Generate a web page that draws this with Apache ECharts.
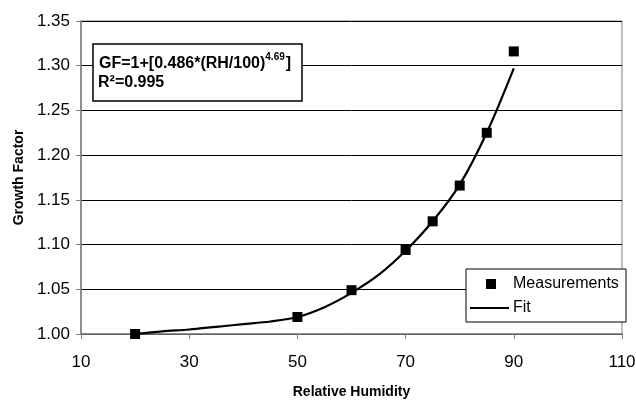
<!DOCTYPE html>
<html><head><meta charset="utf-8">
<script src="https://cdn.jsdelivr.net/npm/echarts@6/dist/echarts.min.js"></script>
<style>html,body{margin:0;padding:0;background:#fff}#c{width:636px;height:401px}</style>
</head><body><div id="c"></div>
<script>
const measRH = [20, 50, 60, 70, 75, 80, 85, 90];
const measGF = [1.000, 1.019, 1.049, 1.094, 1.126, 1.166, 1.225, 1.316];
const fitRH = [20, 25, 30, 35, 40, 45, 50, 55, 60, 65, 70, 75, 80, 85, 90];
const fitGF = [1.000, 1.003, 1.005, 1.008, 1.011, 1.014, 1.019, 1.030, 1.046, 1.066, 1.093, 1.126, 1.167, 1.225, 1.297];
const xTicks = [10, 30, 50, 70, 90, 110];
const yTicks = [1.00, 1.05, 1.10, 1.15, 1.20, 1.25, 1.30, 1.35];

const F = 'Liberation Sans, Arial, sans-serif';
const chart = echarts.init(document.getElementById('c'));
chart.setOption({
  animation: false,
  grid: { left: 81, right: 14, top: 21, bottom: 67, show: true, borderColor: '#808080', borderWidth: 1,
          containLabel: false, outerBoundsMode: 'none' },
  xAxis: {
    type: 'value', min: xTicks[0], max: xTicks[xTicks.length-1], interval: 20,
    name: 'Relative Humidity', nameLocation: 'middle', nameGap: 51,
    nameTextStyle: { fontFamily: F, fontWeight: 'bold', fontSize: 14, color: '#000' },
    axisLine: { lineStyle: { color: '#808080', width: 1.5 } },
    axisTick: { show: true, length: 5, lineStyle: { color: '#808080' } },
    axisLabel: { fontFamily: F, fontSize: 17, color: '#000', margin: 20 },
    splitLine: { show: false }
  },
  yAxis: {
    type: 'value', min: yTicks[0], max: yTicks[yTicks.length-1], interval: 0.05,
    name: 'Growth Factor', nameLocation: 'middle', nameGap: 53,
    nameTextStyle: { fontFamily: F, fontWeight: 'bold', fontSize: 14, color: '#000' },
    axisLine: { show: true, lineStyle: { color: '#808080', width: 1.5 } },
    axisTick: { show: true, length: 5, lineStyle: { color: '#808080' } },
    axisLabel: { fontFamily: F, fontSize: 17, color: '#000', margin: 11, formatter: v => v.toFixed(2) },
    splitLine: { show: true, lineStyle: { color: '#000', width: 1 } }
  },
  legend: [
    { data: [{ name: 'Measurements', icon: 'rect' }], orient: 'vertical', left: 486, top: 276, z: 10,
      itemWidth: 10, itemHeight: 10, itemGap: 0, padding: 0,
      itemStyle: { color: '#000', opacity: 1 },
      textStyle: { fontFamily: F, fontSize: 16, color: '#000', padding: [0, 0, 0, 12] } },
    { data: [{ name: 'Fit', icon: 'rect' }], orient: 'vertical', left: 470, top: 300, z: 10,
      itemWidth: 39, itemHeight: 2, itemGap: 0, padding: 0,
      itemStyle: { color: '#000', opacity: 1 },
      textStyle: { fontFamily: F, fontSize: 16, color: '#000', padding: [0, 0, 0, -1] } }
  ],
  graphic: [
    { type: 'rect', shape: { x: 466, y: 269, width: 160, height: 53 }, style: { fill: '#fff', stroke: '#000', lineWidth: 1 }, z: 3 },
    { type: 'rect', shape: { x: 93, y: 44, width: 209, height: 57 }, style: { fill: '#fff', stroke: '#000', lineWidth: 1.5 }, z: 5 },
    { type: 'text', left: 99, top: 52, z: 6,
      style: { text: '{m|GF=1+[0.486*(RH/100)}{s|4.69}{m|]}', rich: {
        m: { fontFamily: F, fontSize: 16, fontWeight: 'bold', fill: '#000', lineHeight: 20, verticalAlign: 'bottom' },
        s: { fontFamily: F, fontSize: 10, fontWeight: 'bold', fill: '#000', lineHeight: 20, verticalAlign: 'top', padding: [0, 1, 8, 0] } } } },
    { type: 'text', left: 98, top: 75, z: 6,
      style: { text: 'R²=0.995', fontFamily: F, fontSize: 16, fontWeight: 'bold', fill: '#000' } }
  ],
  series: [
    { name: 'Fit', type: 'line', data: fitRH.map((x, i) => [x, fitGF[i]]), smooth: 0.3, showSymbol: false, symbol: 'none',
      lineStyle: { color: '#000', width: 2.2 }, itemStyle: { color: '#000' }, z: 3 },
    { name: 'Measurements', type: 'scatter', data: measRH.map((x, i) => [x, measGF[i]]), symbol: 'rect', symbolSize: 10,
      itemStyle: { color: '#000', opacity: 1 }, z: 4 }
  ]
});
</script></body></html>
